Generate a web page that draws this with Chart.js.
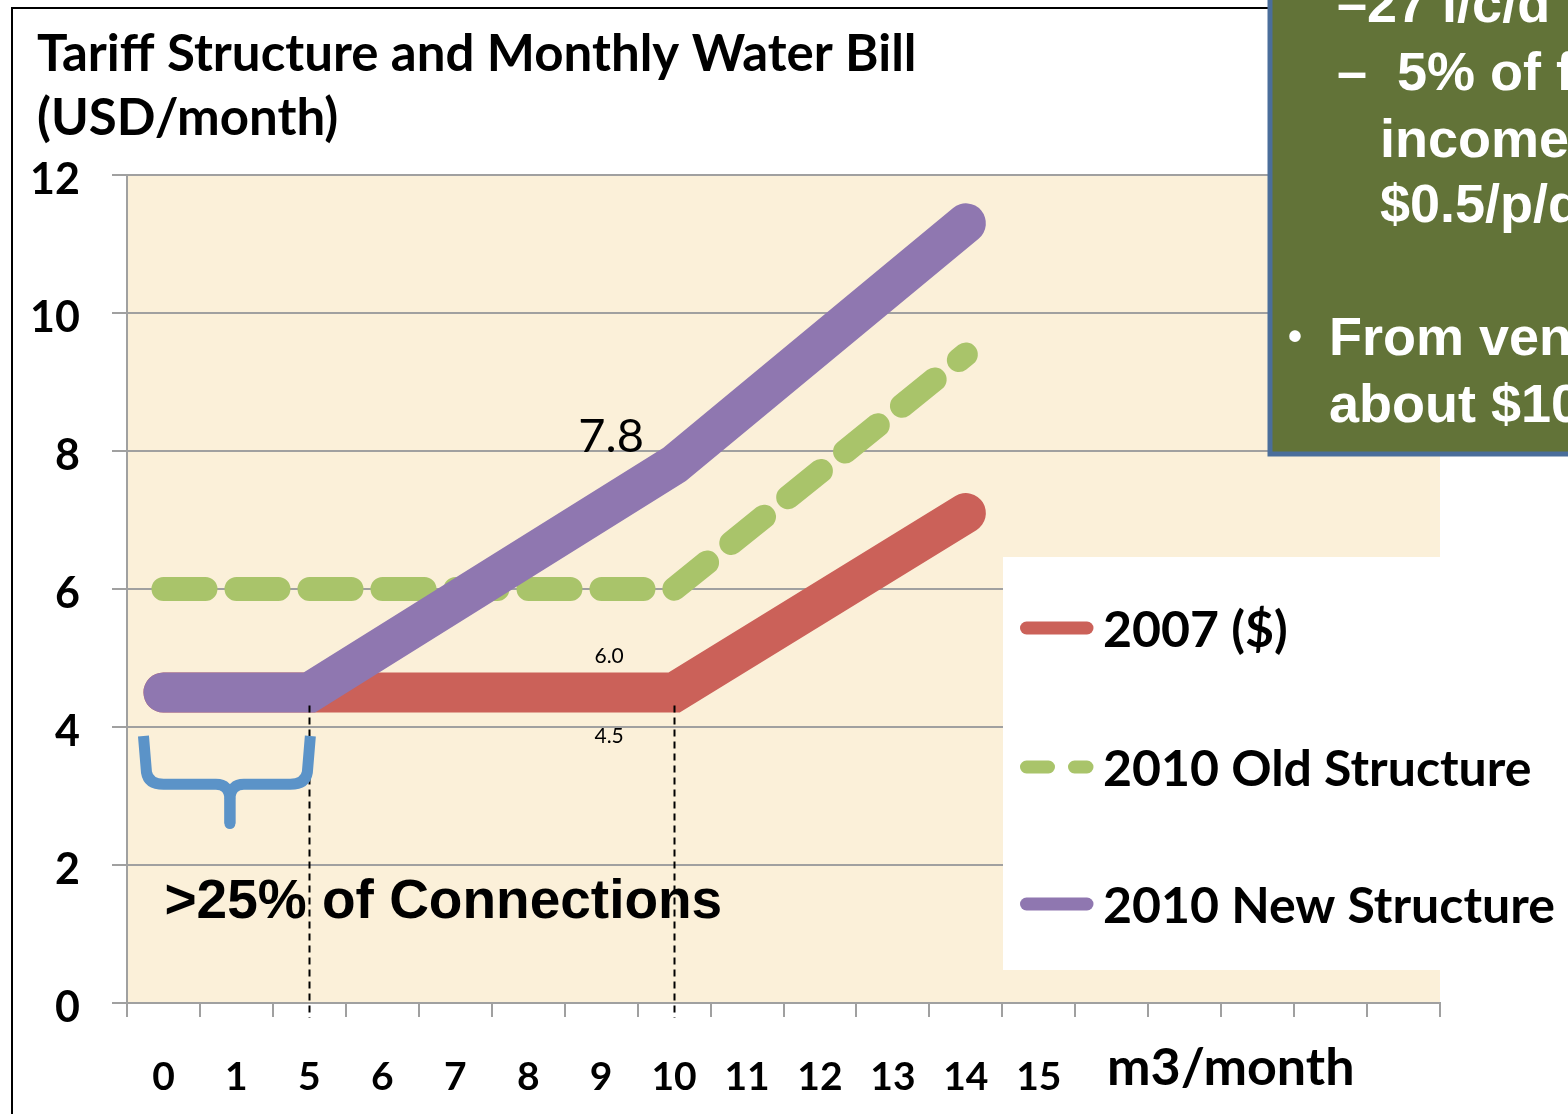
<!DOCTYPE html>
<html>
<head>
<meta charset="utf-8">
<title>Tariff Structure and Monthly Water Bill</title>
<script src="https://cdn.jsdelivr.net/npm/chart.js@4.4.1/dist/chart.umd.min.js"></script>
<style>
  html, body { margin: 0; padding: 0; background: #ffffff; overflow: hidden; }
  canvas { display: block; }
</style>
</head>
<body>
<canvas id="myChart" width="1568" height="1114"></canvas>
<script>

// Categories of the x axis (m3/month), the last five slots have no label
let categories = ['0', '1', '5', '6', '7', '8', '9', '10', '11', '12', '13', '14', '15', '', '', '', '', ''];

// Monthly bill in USD, null = no point (the line runs straight through)
let bill2007    = [4.5, null, 4.5, null, null, null, null, 4.5, null, null, null, 7.1,  null, null, null, null, null, null];
let billOld2010 = [6.0, null, 6.0, null, null, null, null, 6.0, null, null, null, 9.4,  null, null, null, null, null, null];
let billNew2010 = [4.5, null, 4.5, null, null, null, null, 7.8, null, null, null, 11.3, null, null, null, null, null, null];

let seriesNames  = ['2007 ($)', '2010 Old Structure', '2010 New Structure'];
let seriesColors = ['#cb6159', '#a9c46a', '#8f77b0'];

// Y axis
let yMin = 0;
let yMax = 12;
let yStep = 2;

// Texts written on the chart
let titleLines  = ['Tariff Structure and Monthly Water Bill', '(USD/month)'];
let xAxisName   = 'm3/month';
let valueNotes  = ['7.8', '6.0', '4.5'];
let braceNote   = '>25% of Connections';
let sideBox     = ['\u201327 l/c/d', '\u2013  5% of family', 'income', '$0.5/p/d', '\u2022', 'From vendors', 'about $10'];


let fontCal = 'Lato, "Noto Sans", sans-serif';
let fontAri = '"Liberation Sans", Arial, sans-serif';

// Plugin for everything Chart.js does not draw by itself
let decorPlugin = {
  id: 'decor',
  beforeDraw(chart) {
    let ctx = chart.ctx;
    let a = chart.chartArea;
    ctx.save();
    ctx.fillStyle = '#ffffff';
    ctx.fillRect(0, 0, chart.width, chart.height);
    // parchment background of the plot
    ctx.fillStyle = '#fbf0d9';
    ctx.fillRect(a.left, a.top, a.right - a.left, a.bottom - a.top);
    // outer frame
    ctx.strokeStyle = '#000000';
    ctx.lineWidth = 2;
    ctx.beginPath();
    ctx.moveTo(12, chart.height);
    ctx.lineTo(12, 8);
    ctx.lineTo(chart.width, 8);
    ctx.stroke();
    ctx.restore();
  },
  afterDatasetsDraw(chart) {
    let ctx = chart.ctx;
    let x = chart.scales.x;
    let y = chart.scales.y;
    ctx.save();

    // >25% of Connections
    ctx.fillStyle = '#000000';
    ctx.font = 'bold 55px ' + fontAri;
    ctx.textAlign = 'left';
    ctx.textBaseline = 'alphabetic';
    ctx.fillText(braceNote, x.getPixelForValue(0) + 1, y.getPixelForValue(1.23));

    // dashed drop lines at 5 and 10 m3
    ctx.strokeStyle = '#000000';
    ctx.lineWidth = 2;
    ctx.setLineDash([7, 5]);
    [2, 7].forEach(function (i) {
      let px = Math.round(x.getPixelForValue(i)) + 0.5;
      ctx.beginPath();
      ctx.moveTo(px, y.getPixelForValue(4.5) + 13);
      ctx.lineTo(px, y.bottom + 15);
      ctx.stroke();
    });
    ctx.setLineDash([]);

    // blue brace under 0..5
    let bl = x.getPixelForValue(0) - 20;
    let br = x.getPixelForValue(2) + 1;
    let bm = (bl + br) / 2 + 3;
    let yt = y.getPixelForValue(3.87);
    let ym = y.getPixelForValue(3.17);
    let yb = y.getPixelForValue(2.6);
    ctx.strokeStyle = '#5b93c8';
    ctx.lineWidth = 11;
    ctx.lineCap = 'butt';
    ctx.lineJoin = 'round';
    ctx.beginPath();
    ctx.moveTo(bl, yt);
    ctx.lineTo(bl + 3, ym - 12);
    ctx.quadraticCurveTo(bl + 5, ym, bl + 20, ym);
    ctx.lineTo(bm - 14, ym);
    ctx.quadraticCurveTo(bm - 1, ym, bm, ym + 14);
    ctx.lineTo(bm, yb);
    ctx.moveTo(br, yt);
    ctx.lineTo(br - 3, ym - 12);
    ctx.quadraticCurveTo(br - 5, ym, br - 20, ym);
    ctx.lineTo(bm + 14, ym);
    ctx.quadraticCurveTo(bm + 1, ym, bm, ym + 14);
    ctx.stroke();
    ctx.beginPath();
    ctx.lineCap = 'round';
    ctx.moveTo(bm, ym + 14);
    ctx.lineTo(bm, yb);
    ctx.stroke();

    // value notes
    ctx.fillStyle = '#000000';
    ctx.textAlign = 'center';
    ctx.font = '47px ' + fontCal;
    ctx.fillText(valueNotes[0], x.getPixelForValue(6) + 10, y.getPixelForValue(8.0) + 1);
    ctx.font = '21px ' + fontCal;
    ctx.fillText(valueNotes[1], x.getPixelForValue(6) + 8, y.getPixelForValue(4.93));
    ctx.fillText(valueNotes[2], x.getPixelForValue(6) + 8, y.getPixelForValue(3.77));
    ctx.restore();
  },
  afterDraw(chart) {
    let ctx = chart.ctx;
    let a = chart.chartArea;
    ctx.save();

    // legend box
    ctx.fillStyle = '#ffffff';
    ctx.fillRect(1003, 557, a.right - 1003, 413);
    let legY = [628, 767, 904];
    for (let i = 0; i < seriesNames.length; i++) {
      ctx.strokeStyle = seriesColors[i];
      ctx.lineWidth = 13;
      ctx.lineCap = 'round';
      ctx.setLineDash(i == 1 ? [22, 26] : []);
      ctx.beginPath();
      ctx.moveTo(1026.5, legY[i]);
      ctx.lineTo(1087, legY[i]);
      ctx.stroke();
      ctx.setLineDash([]);
      ctx.fillStyle = '#000000';
      ctx.font = 'bold 50px ' + fontCal;
      ctx.textAlign = 'left';
      ctx.textBaseline = 'middle';
      ctx.fillText(seriesNames[i], 1103, legY[i] + 3);
    }

    // title
    ctx.textBaseline = 'alphabetic';
    ctx.font = 'bold 51px ' + fontCal;
    ctx.fillText(titleLines[0], 37, 71);
    ctx.fillText(titleLines[1], 37, 135);

    // axis name
    ctx.font = 'bold 52px ' + fontCal;
    ctx.fillText(xAxisName, 1107, 1085);

    // green text box, top right
    ctx.fillStyle = '#627338';
    ctx.fillRect(1270, -10, 400, 464);
    ctx.strokeStyle = '#4a6e9b';
    ctx.lineWidth = 5;
    ctx.strokeRect(1270, -10, 400, 464);
    ctx.fillStyle = '#ffffff';
    ctx.font = 'bold 54px ' + fontAri;
    ctx.fillText(sideBox[0], 1337, 22);
    ctx.fillText(sideBox[1], 1337, 90);
    ctx.fillText(sideBox[2], 1380, 157);
    ctx.fillText(sideBox[3], 1380, 222);
    ctx.font = 'bold 40px ' + fontAri;
    ctx.fillText(sideBox[4], 1288, 350);
    ctx.font = 'bold 54px ' + fontAri;
    ctx.fillText(sideBox[5], 1329, 355);
    ctx.fillText(sideBox[6], 1329, 422);
    ctx.restore();
  }
};

let canvas = document.getElementById('myChart');

const myChart = new Chart(canvas, {
  type: 'line',
  data: {
    labels: categories,
    datasets: [
      {
        label: seriesNames[0],
        data: bill2007,
        borderColor: seriesColors[0],
        borderWidth: 40,
        borderCapStyle: 'round',
        borderJoinStyle: 'miter',
        order: 2
      },
      {
        label: seriesNames[1],
        data: billOld2010,
        borderColor: seriesColors[1],
        borderWidth: 24,
        borderDash: [42, 31],
        borderCapStyle: 'round',
        borderJoinStyle: 'miter',
        order: 1
      },
      {
        label: seriesNames[2],
        data: billNew2010,
        borderColor: seriesColors[2],
        borderWidth: 40,
        borderCapStyle: 'round',
        borderJoinStyle: 'miter',
        order: 0
      }
    ]
  },
  options: {
    responsive: false,
    animation: false,
    devicePixelRatio: 1,
    spanGaps: true,
    elements: {
      point: { radius: 0, hoverRadius: 0 },
      line: { tension: 0, fill: false }
    },
    layout: {
      padding: { top: 175, right: 128, bottom: 0, left: 0 }
    },
    plugins: {
      legend: { display: false },
      title: { display: false },
      tooltip: { enabled: false }
    },
    scales: {
      x: {
        type: 'category',
        offset: true,
        afterFit: function (scale) { scale.height = 111; },
        grid: {
          display: true,
          offset: true,
          drawOnChartArea: false,
          drawTicks: true,
          tickLength: 14,
          color: '#a0a0a0',
          lineWidth: 2
        },
        border: { display: true, color: '#a0a0a0', width: 2 },
        ticks: {
          autoSkip: false,
          maxRotation: 0,
          padding: 37,
          color: '#000000',
          font: { family: fontCal, size: 39, weight: 'bold' }
        }
      },
      y: {
        min: yMin,
        max: yMax,
        afterFit: function (scale) { scale.width = 127; },
        grid: {
          color: '#a0a0a0',
          lineWidth: 2,
          tickLength: 15
        },
        border: { display: true, color: '#a0a0a0', width: 2 },
        ticks: {
          stepSize: yStep,
          padding: 32,
          labelOffset: 5,
          color: '#000000',
          font: { family: fontCal, size: 43, weight: 'bold' }
        }
      }
    }
  },
  plugins: [decorPlugin]
});

</script>
</body>
</html>
